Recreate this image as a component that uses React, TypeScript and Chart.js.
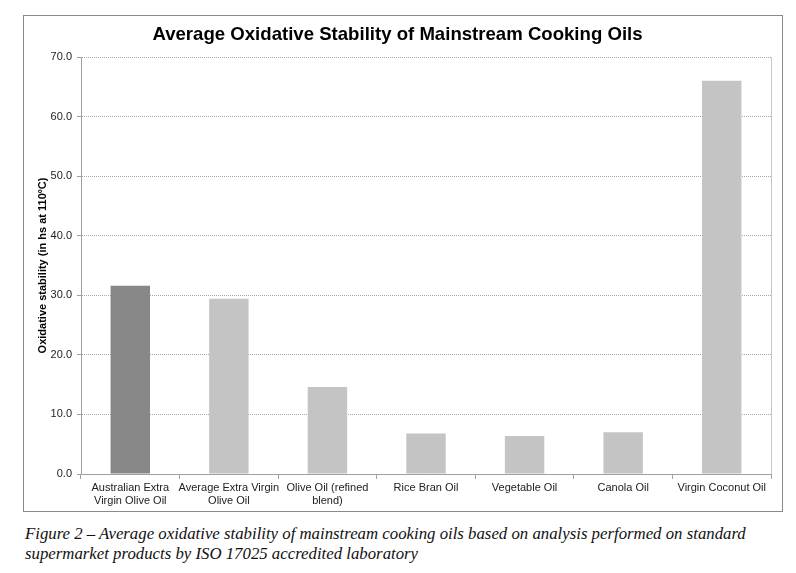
import React, { useEffect, useRef } from "react";
import { Chart, registerables } from "chart.js";

Chart.register(...registerables);

const categories: (string | string[])[] = [
  ["Australian Extra", "Virgin Olive Oil"],
  ["Average Extra Virgin", "Olive Oil"],
  ["Olive Oil (refined", "blend)"],
  "Rice Bran Oil",
  "Vegetable Oil",
  "Canola Oil",
  "Virgin Coconut Oil",
];
const stabilityValues = [31.6, 29.4, 14.6, 6.8, 6.4, 7.0, 66.0];
const barColors = ["#878787", "#c4c4c4", "#c4c4c4", "#c4c4c4", "#c4c4c4", "#c4c4c4", "#c4c4c4"];
const yTickMin = 0;
const yTickMax = 70;
const yTickStep = 10;

const titleText = "Average Oxidative Stability of Mainstream Cooking Oils";
const yAxisTitle = "Oxidative stability (in hs at 110\u00baC)";
const captionLine1 =
  "Figure 2 \u2013 Average oxidative stability of mainstream cooking oils based on analysis performed on standard";
const captionLine2 = "supermarket products by ISO 17025 accredited laboratory";

const plotBorder = {
  id: "plotBorder",
  afterDraw(chart: any) {
    const { ctx, chartArea } = chart;
    ctx.save();
    ctx.strokeStyle = "#c8c8c8";
    ctx.lineWidth = 1;
    ctx.beginPath();
    ctx.moveTo(chartArea.right + 0.5, chartArea.top);
    ctx.lineTo(chartArea.right + 0.5, chartArea.bottom);
    ctx.stroke();
    ctx.restore();
  },
};

export default function App() {
  const canvasRef = useRef<HTMLCanvasElement | null>(null);

  useEffect(() => {
    if (!canvasRef.current) return;
    const chart = new Chart(canvasRef.current, {
      type: "bar",
      data: {
        labels: categories,
        datasets: [
          {
            data: stabilityValues,
            backgroundColor: barColors,
            borderWidth: 0,
            barPercentage: 0.4,
            categoryPercentage: 1,
          },
        ],
      },
      options: {
        responsive: false,
        animation: false,
        devicePixelRatio: 1,
        layout: { padding: { left: 0, right: 11, top: 0, bottom: 0 } },
        plugins: {
          legend: { display: false },
          tooltip: { enabled: false },
          title: {
            display: true,
            text: titleText,
            color: "#000",
            font: { family: "Arial, 'Liberation Sans', sans-serif", size: 18.6, weight: "bold" },
            padding: { top: 8, bottom: 10.7 },
          },
        },
        scales: {
          x: {
            grid: {
              offset: true,
              drawOnChartArea: false,
              tickLength: 5,
              color: "#a0a0a0",
            },
            border: { color: "#a0a0a0" },
            ticks: {
              color: "#222",
              padding: 3,
              maxRotation: 0,
              autoSkip: false,
              font: { family: "Arial, 'Liberation Sans', sans-serif", size: 11, lineHeight: 1.15 },
            },
            afterFit(scale: any) {
              scale.height = 37;
            },
          },
          y: {
            min: yTickMin,
            max: yTickMax,
            grid: {
              color: "#a8a8a8",
              tickLength: 4,
              tickColor: "#a0a0a0",
            },
            border: { color: "#a0a0a0", dash: [1, 1] },
            ticks: {
              stepSize: yTickStep,
              color: "#222",
              padding: 5,
              font: { family: "Arial, 'Liberation Sans', sans-serif", size: 11 },
              callback: (v: any) => Number(v).toFixed(1),
            },
            title: {
              display: true,
              text: yAxisTitle,
              color: "#000",
              font: { family: "Arial, 'Liberation Sans', sans-serif", size: 11, weight: "bold" },
              padding: { top: 12, bottom: 4 },
            },
            afterFit(scale: any) {
              scale.width = 57;
            },
          },
        },
      },
      plugins: [plotBorder],
    });
    return () => chart.destroy();
  }, []);

  return (
    <div style={{ position: "relative", width: 780, height: 557 }}>
      <div
        style={{
          position: "absolute",
          left: 15,
          top: 7,
          width: 758,
          height: 495,
          border: "1px solid #8a8a8a",
          background: "#fff",
        }}
      >
        <canvas ref={canvasRef} width={758} height={495} style={{ display: "block" }} />
      </div>
      <div
        style={{
          position: "absolute",
          left: 17,
          top: 516,
          fontFamily: "'Liberation Serif', 'DejaVu Serif', serif",
          fontStyle: "italic",
          fontSize: 16.8,
          lineHeight: "20px",
          color: "#111",
          whiteSpace: "nowrap",
        }}
      >
        {captionLine1}
        <br />
        {captionLine2}
      </div>
    </div>
  );
}
